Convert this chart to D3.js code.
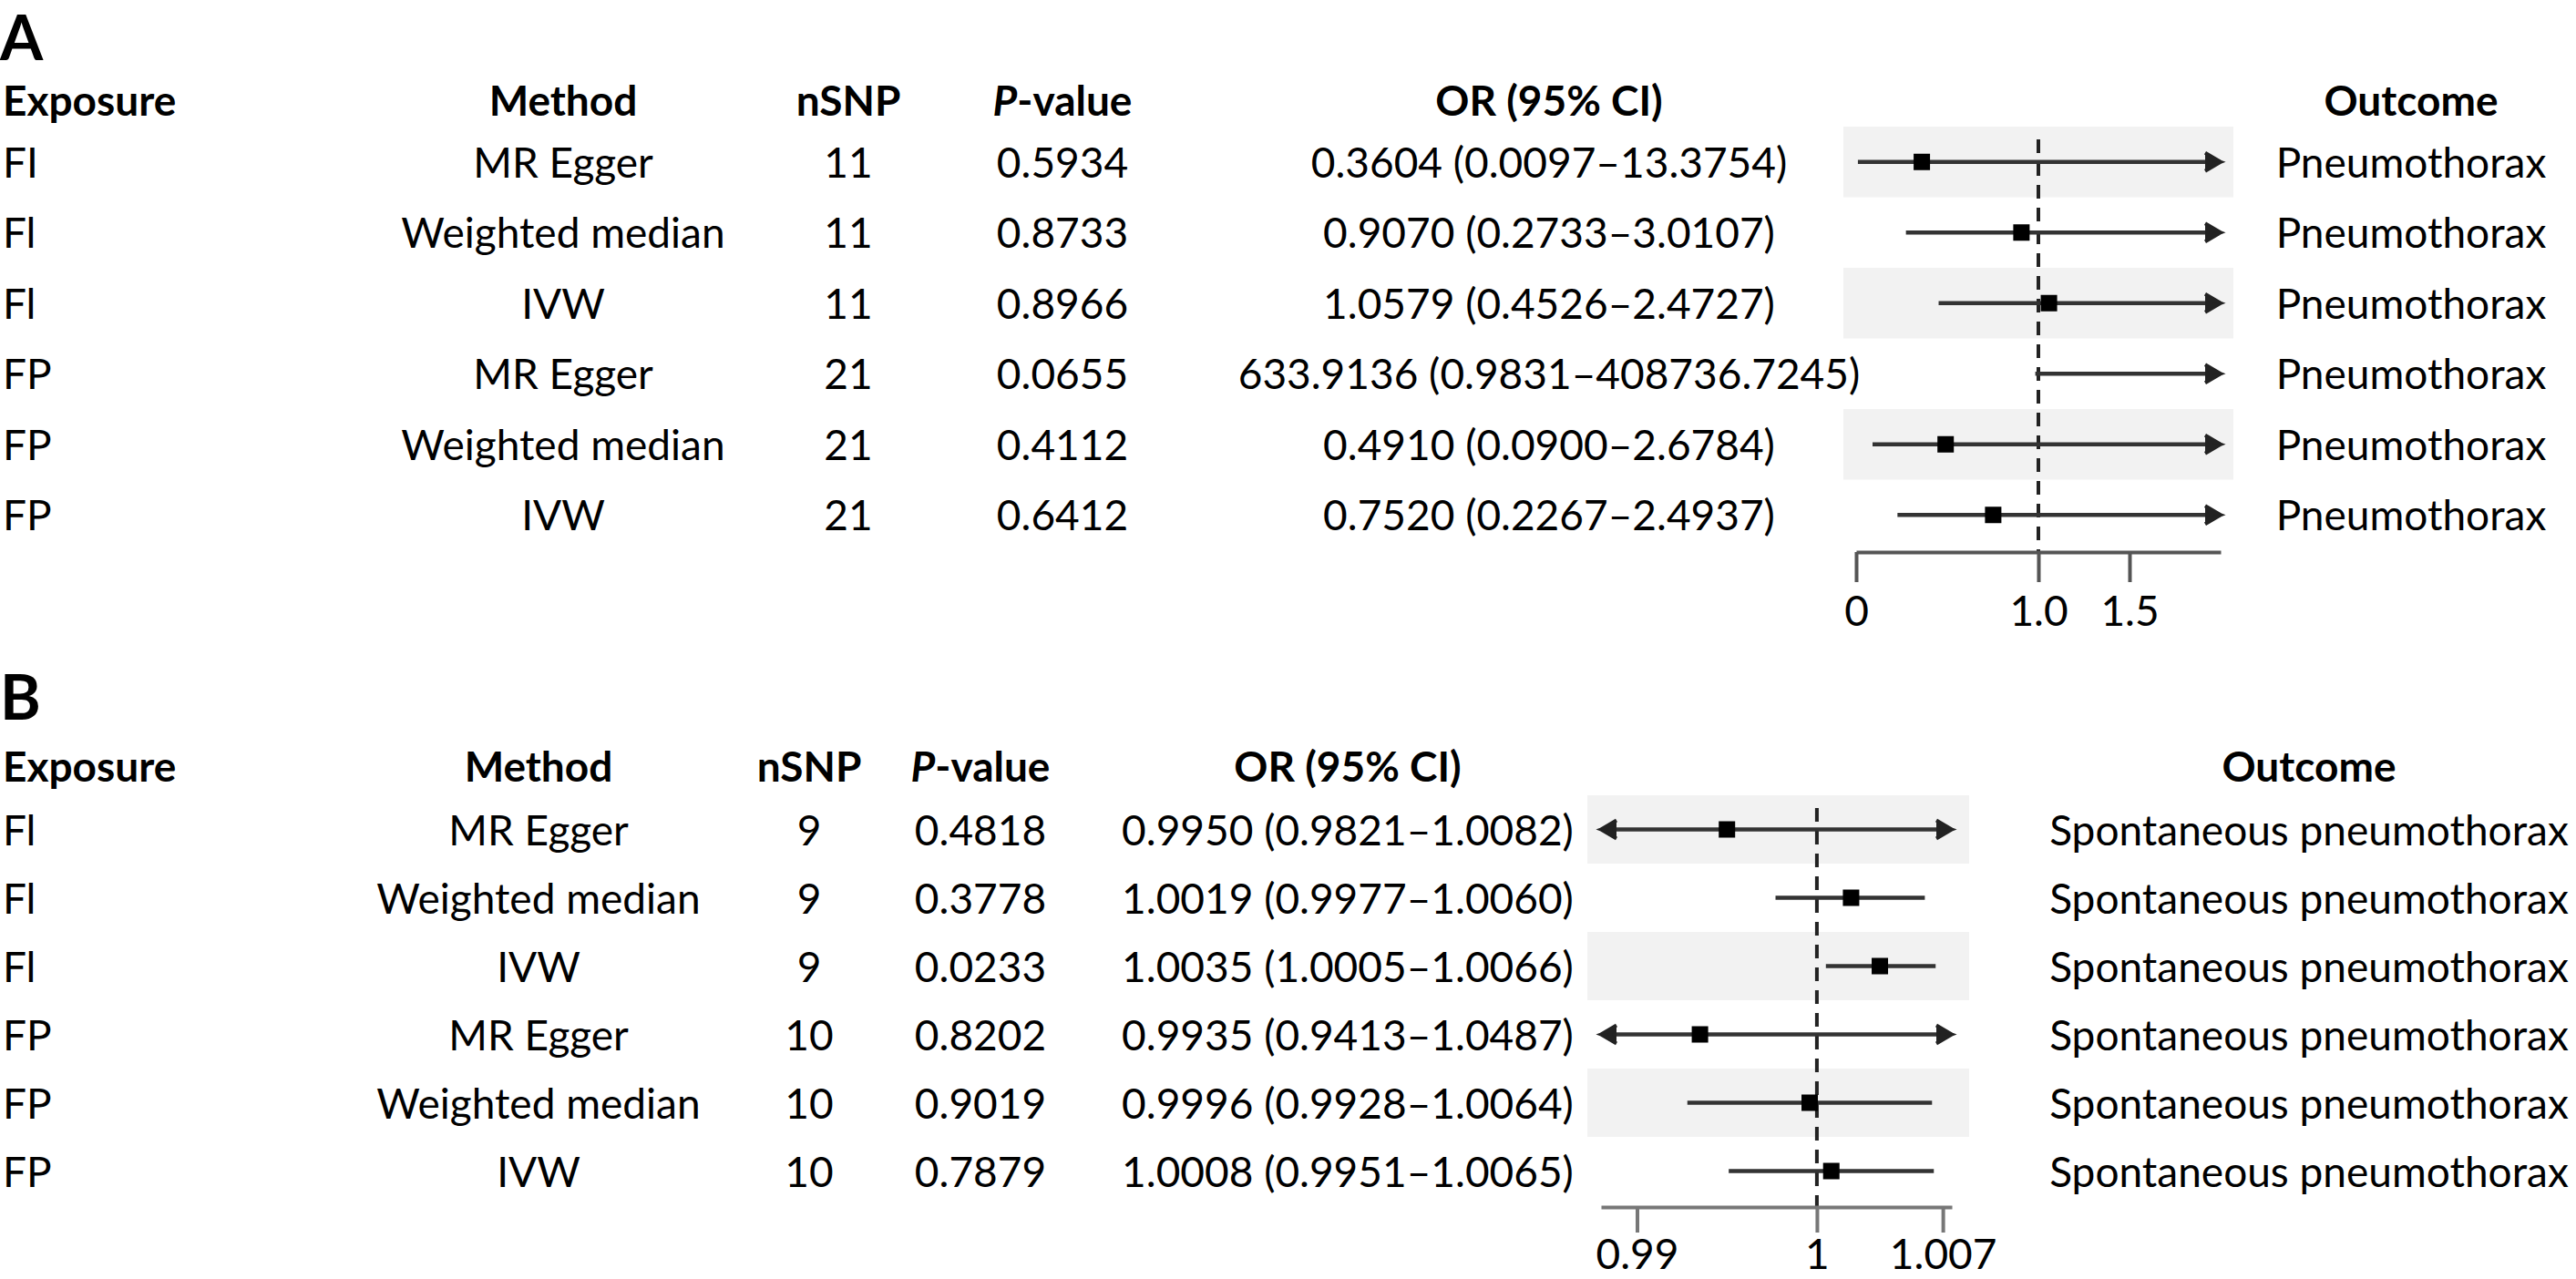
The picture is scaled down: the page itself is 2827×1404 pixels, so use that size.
<!DOCTYPE html>
<html>
<head>
<meta charset="utf-8">
<script src="https://cdnjs.cloudflare.com/ajax/libs/d3/7.8.5/d3.min.js"></script>
<style>
body{margin:0;background:#fff;}
svg{display:block;font-family:Lato,"Open Sans",sans-serif;}
</style>
</head>
<body>
<svg id="chart" width="2827" height="1404"></svg>
<script>
// shared labels
var methods = ['MR Egger', 'Weighted median', 'IVW', 'MR Egger', 'Weighted median', 'IVW'];
var headers = ['Exposure', 'Method', 'nSNP', 'P-value', 'OR (95% CI)', 'Outcome'];

// panel A : pneumothorax
var exposureA = ['FI', 'Fl', 'Fl', 'FP', 'FP', 'FP'];
var nsnpA = [11, 11, 11, 21, 21, 21];
var pvalA = ['0.5934', '0.8733', '0.8966', '0.0655', '0.4112', '0.6412'];
var orA = [0.3604, 0.9070, 1.0579, 633.9136, 0.4910, 0.7520];
var lowA = [0.0097, 0.2733, 0.4526, 0.9831, 0.0900, 0.2267];
var upA = [13.3754, 3.0107, 2.4727, 408736.7245, 2.6784, 2.4937];
var outcomeA = 'Pneumothorax';
var ticksA = [0, 1, 1.5];
var tickLabelsA = ['0', '1.0', '1.5'];

// panel B : spontaneous pneumothorax
var exposureB = ['Fl', 'Fl', 'Fl', 'FP', 'FP', 'FP'];
var nsnpB = [9, 9, 9, 10, 10, 10];
var pvalB = ['0.4818', '0.3778', '0.0233', '0.8202', '0.9019', '0.7879'];
var orB = [0.9950, 1.0019, 1.0035, 0.9935, 0.9996, 1.0008];
var lowB = [0.9821, 0.9977, 1.0005, 0.9413, 0.9928, 0.9951];
var upB = [1.0082, 1.0060, 1.0066, 1.0487, 1.0064, 1.0065];
var outcomeB = 'Spontaneous pneumothorax';
var ticksB = [0.99, 1, 1.007];
var tickLabelsB = ['0.99', '1', '1.007'];

(function forest(){
    'use strict';
    var svg = d3.select('#chart');
    var fontSize = 46;

    function fmt(v){
        return v.toFixed(4);
    }

    function drawPanel(p){
        var n = p.or.length;
        var g = svg.append('g').attr('class', 'panel');
        var y = d3.scaleBand().domain(d3.range(n))
                .range([p.top, p.top + p.step * n]);
        var x = d3.scaleLinear().domain(p.domain).range(p.xRange);
        var mid = function(i){ return y(i) + y.bandwidth() / 2; };

        g.append('text')
            .attr('x', 0).attr('y', p.letterY)
            .attr('font-size', 68).attr('font-weight', 700)
            .text(p.letter);

        // shaded rows
        g.selectAll('rect.band')
            .data(d3.range(n).filter(function(i){ return i % 2 === 0; }))
            .enter().append('rect')
            .attr('class', 'band')
            .attr('x', p.bandX[0]).attr('width', p.bandX[1] - p.bandX[0])
            .attr('y', function(i){ return y(i); })
            .attr('height', y.bandwidth())
            .attr('fill', '#f2f2f2');

        // header row
        var head = g.append('g').attr('font-size', fontSize).attr('font-weight', 700);
        headers.forEach(function(h, k){
            var t = head.append('text')
                .attr('x', p.cols[k])
                .attr('y', p.headY)
                .attr('text-anchor', k === 0 ? 'start' : 'middle');
            if(h === 'P-value'){
                t.append('tspan').attr('font-style', 'italic').text('P');
                t.append('tspan').text('-value');
            }else{
                t.text(h);
            }
        });

        // table cells
        var cells = d3.range(n).map(function(i){
            return [p.exposure[i], methods[i], p.nsnp[i], p.pval[i],
                fmt(p.or[i]) + ' (' + fmt(p.low[i]) + '\u2013' + fmt(p.up[i]) + ')',
                p.outcome];
        });
        var rows = g.selectAll('g.row').data(cells).enter().append('g')
            .attr('class', 'row')
            .attr('font-size', fontSize);
        rows.selectAll('text').data(function(d, i){
                return d.map(function(v){ return {v: v, i: i}; });
            })
            .enter().append('text')
            .attr('x', function(d, k){ return p.cols[k]; })
            .attr('y', function(d){ return mid(d.i) + 17; })
            .attr('text-anchor', function(d, k){ return k === 0 ? 'start' : 'middle'; })
            .text(function(d){ return d.v; });

        // reference line at OR = 1
        g.append('line')
            .attr('x1', x(1)).attr('x2', x(1))
            .attr('y1', p.refTop).attr('y2', p.axisY)
            .attr('stroke', '#222').attr('stroke-width', 4)
            .attr('stroke-dasharray', '15,10');

        // confidence intervals
        var d0 = p.domain[0], d1 = p.domain[1];
        var arrow = 'M-17,-10L0,0L-17,10M-13,-5L0,0L-13,5L-10,0Z';
        var ci = g.selectAll('g.ci').data(d3.range(n)).enter().append('g')
            .attr('class', 'ci');
        ci.append('line')
            .attr('x1', function(i){ return x(Math.max(p.low[i], d0)); })
            .attr('x2', function(i){ return x(Math.min(p.up[i], d1)); })
            .attr('y1', mid).attr('y2', mid)
            .attr('stroke', '#333').attr('stroke-width', 4.5);
        ci.filter(function(i){ return p.up[i] > d1; })
            .append('path')
            .attr('d', arrow)
            .attr('transform', function(i){ return 'translate(' + x(d1) + ',' + mid(i) + ')'; })
            .attr('fill', '#222').attr('stroke', '#222').attr('stroke-width', 4);
        ci.filter(function(i){ return p.low[i] < d0; })
            .append('path')
            .attr('d', arrow)
            .attr('transform', function(i){ return 'translate(' + x(d0) + ',' + mid(i) + ') scale(-1,1)'; })
            .attr('fill', '#222').attr('stroke', '#222').attr('stroke-width', 4);
        ci.filter(function(i){ return p.or[i] >= d0 && p.or[i] <= d1; })
            .append('rect')
            .attr('x', function(i){ return x(p.or[i]) - 9; })
            .attr('y', function(i){ return mid(i) - 9; })
            .attr('width', 18).attr('height', 18)
            .attr('fill', '#000');

        // x axis
        var axis = g.append('g')
            .attr('transform', 'translate(0,' + p.axisY + ')')
            .call(d3.axisBottom(x)
                .tickValues(p.ticks)
                .tickFormat(function(d, k){ return p.tickLabels[k]; })
                .tickSize(p.tickLen)
                .tickSizeOuter(0));
        axis.attr('font-family', null).attr('font-size', fontSize);
        axis.select('.domain').attr('stroke', p.axisColor).attr('stroke-width', 4);
        axis.selectAll('.tick line').attr('stroke', p.axisColor).attr('stroke-width', 4);
        axis.selectAll('.tick text')
            .attr('fill', '#000')
            .attr('dy', null)
            .attr('y', p.labelOffset);
    }

    drawPanel({
        letter: 'A', letterY: 66,
        exposure: exposureA, nsnp: nsnpA, pval: pvalA,
        or: orA, low: lowA, up: upA, outcome: outcomeA,
        ticks: ticksA, tickLabels: tickLabelsA,
        cols: [3, 618, 931, 1166, 1700, 2646],
        headY: 127, top: 139, step: 77.5,
        domain: [0, 2], xRange: [2037, 2437],
        bandX: [2023, 2451],
        refTop: 153, axisY: 606, tickLen: 33, labelOffset: 81,
        axisColor: '#555'
    });

    drawPanel({
        letter: 'B', letterY: 790,
        exposure: exposureB, nsnp: nsnpB, pval: pvalB,
        or: orB, low: lowB, up: upB, outcome: outcomeB,
        ticks: ticksB, tickLabels: tickLabelsB,
        cols: [3, 591, 888, 1076, 1479, 2534],
        headY: 858, top: 873, step: 75,
        domain: [0.988, 1.0075], xRange: [1757, 2142],
        bandX: [1742, 2161],
        refTop: 887, axisY: 1325, tickLen: 28, labelOffset: 68,
        axisColor: '#777'
    });
})();
</script>
</body>
</html>
